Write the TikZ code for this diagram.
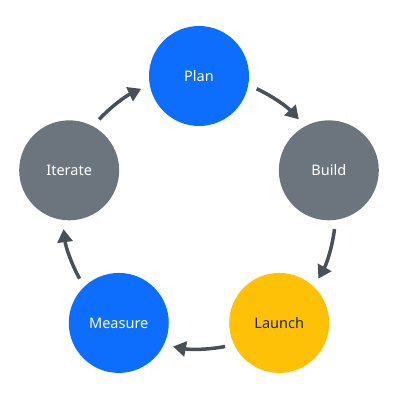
\documentclass[tikz,border=0pt]{standalone}
\usepackage{fontspec}
\setmainfont{Noto Sans}
\usetikzlibrary{arrows.meta,calc}
\definecolor{pblue}{HTML}{0D6EFD}
\definecolor{pgray}{HTML}{6C757D}
\definecolor{pyellow}{HTML}{FFC107}
\definecolor{parrow}{HTML}{495057}
\definecolor{ptext}{HTML}{212529}
\begin{document}
\begin{tikzpicture}[x=1pt,y=1pt,
  stage/.style={circle,minimum size=100pt,inner sep=0pt,font=\fontsize{14.5}{17}\selectfont},
  cyc/.style={draw=parrow,line width=3.5pt,-{Triangle[length=13pt,width=15pt]}}]
\useasboundingbox (0,0) rectangle (400,400);
\coordinate (c) at (199,187.5);
\node[stage,fill=pblue,text=white] (plan) at ($(c)+(90:136.5)$) {Plan};
\node[stage,fill=pgray,text=white] (build) at ($(c)+(18:136.5)$) {Build};
\node[stage,fill=pyellow,text=ptext] (launch) at ($(c)+(-54:136.5)$) {Launch};
\node[stage,fill=pblue,text=white] (measure) at ($(c)+(-126:136.5)$) {Measure};
\node[stage,fill=pgray,text=white] (iterate) at ($(c)+(162:136.5)$) {Iterate};
\foreach \a [count=\i] in {90,18,-54,-126,-198}{
  \coordinate (s\i) at ($(c)+(\a-25:136.5)$);
  \draw[cyc] (s\i) arc[start angle=\a-25,end angle=\a-47,radius=136.5];
}
\end{tikzpicture}
\end{document}
